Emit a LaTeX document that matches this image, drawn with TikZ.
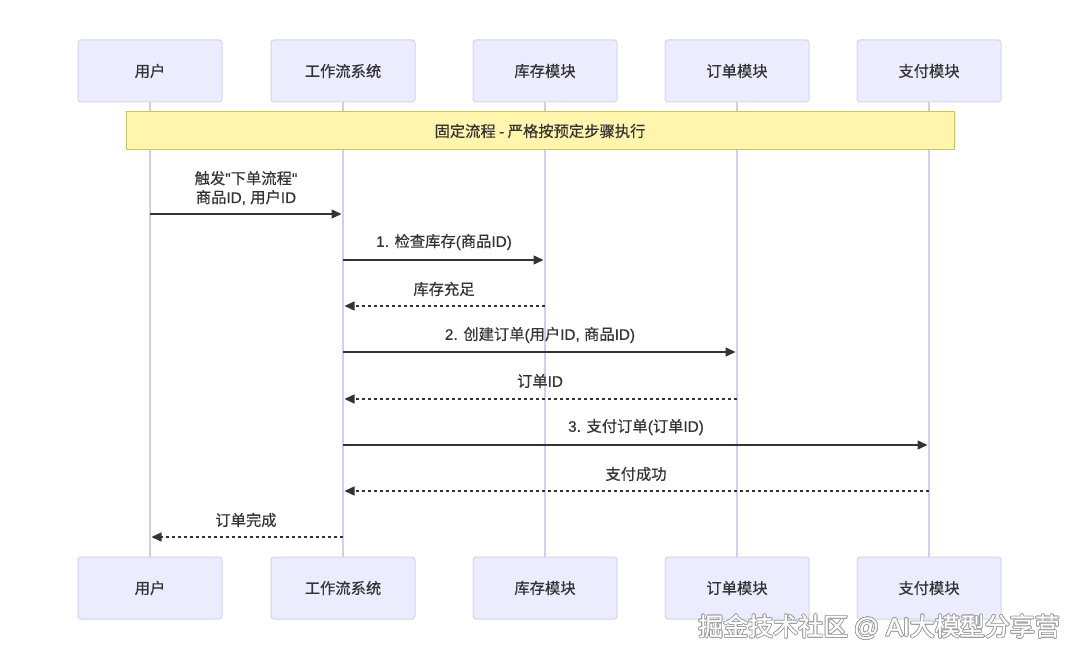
\documentclass[tikz,border=0pt]{standalone}
\usepackage{fontspec}
\setmainfont{Noto Sans CJK SC}[Ligatures=TeXOff, FakeBold=0.4]
\newfontfamily\latfont{Liberation Sans}[Ligatures=TeXOff, FakeBold=0.4]
\usepackage{contour}
\contourlength{0.7pt}
\contournumber{24}
\usetikzlibrary{arrows.meta}
\definecolor{actorfill}{HTML}{ECECFF}
\definecolor{actorline}{HTML}{D6D2F2}
\definecolor{lifeline}{HTML}{D0CFF3}
\definecolor{notefill}{HTML}{FFF5AD}
\definecolor{noteline}{HTML}{C8C85A}
\definecolor{txt}{HTML}{333333}
\newcommand{\lt}[1]{{\latfont #1}}
\begin{document}
\begin{tikzpicture}[x=1pt,y=-1pt,
  actorbox/.style={draw=actorline, fill=actorfill, line width=1pt, rounded corners=3pt,
    minimum width=144pt, minimum height=62pt, inner sep=0pt, text=txt, font=\fontsize{15.3}{18}\selectfont},
  life/.style={draw=lifeline, line width=1.3pt},
  msg/.style={draw=txt, line width=1.4pt, -{Triangle[length=10pt,width=9pt]}, shorten >=1.5pt},
  reply/.style={msg, dash pattern=on 3pt off 3pt},
  lbl/.style={text=txt, font=\fontsize{15.3}{19}\selectfont, inner sep=0pt, align=center},
  notebox/.style={draw=noteline, fill=notefill, line width=1pt, minimum width=828pt,
    minimum height=38pt, inner sep=0pt, text=txt, font=\fontsize{15.3}{18}\selectfont}
]
\fill[white] (0,0) rectangle (1080,660);
\useasboundingbox (0,0) rectangle (1080,660);

% top actors
\node[actorbox] (a1) at (150,71) {用户};
\node[actorbox] (a2) at (343,71) {工作流系统};
\node[actorbox] (a3) at (545,71) {库存模块};
\node[actorbox] (a4) at (737,71) {订单模块};
\node[actorbox] (a5) at (929,71) {支付模块};
% bottom actors
\node[actorbox] (b1) at (150,588) {用户};
\node[actorbox] (b2) at (343,588) {工作流系统};
\node[actorbox] (b3) at (545,588) {库存模块};
\node[actorbox] (b4) at (737,588) {订单模块};
\node[actorbox] (b5) at (929,588) {支付模块};

% lifelines
\foreach \i in {1,...,5} {\draw[life] (a\i.south) -- (b\i.north);}

% note
\node[notebox] (note) at (540,131) {固定流程 \lt{-} 严格按预定步骤执行};

% message coordinates
\coordinate (m1s) at (150,214); \coordinate (m1e) at (343,214);
\coordinate (m2s) at (343,260); \coordinate (m2e) at (545,260);
\coordinate (m3s) at (545,306); \coordinate (m3e) at (343,306);
\coordinate (m4s) at (343,352); \coordinate (m4e) at (737,352);
\coordinate (m5s) at (737,399); \coordinate (m5e) at (343,399);
\coordinate (m6s) at (343,445); \coordinate (m6e) at (929,445);
\coordinate (m7s) at (929,491); \coordinate (m7e) at (343,491);
\coordinate (m8s) at (343,537); \coordinate (m8e) at (150,537);

\draw[msg] (m1s) -- (m1e);
\draw[msg] (m2s) -- (m2e);
\draw[reply] (m3s) -- (m3e);
\draw[msg] (m4s) -- (m4e);
\draw[reply] (m5s) -- (m5e);
\draw[msg] (m6s) -- (m6e);
\draw[reply] (m7s) -- (m7e);
\draw[reply] (m8s) -- (m8e);

% labels
\node[lbl] (l1) at (246,188) {触发\lt{"}下单流程\lt{"}\\商品\lt{ID, }用户\lt{ID}};
\node[lbl] (l2) at (444,242) {\lt{1. }检查库存\lt{(}商品\lt{ID)}};
\node[lbl] (l3) at (444,289) {库存充足};
\node[lbl] (l4) at (540,335) {\lt{2. }创建订单\lt{(}用户\lt{ID, }商品\lt{ID)}};
\node[lbl] (l5) at (540,381) {订单\lt{ID}};
\node[lbl] (l6) at (636,427) {\lt{3. }支付订单\lt{(}订单\lt{ID)}};
\node[lbl] (l7) at (636,474) {支付成功};
\node[lbl] (l8) at (246,520) {订单完成};

% watermark
\node[text=white, font=\fontsize{25}{29}\selectfont, inner sep=0pt, anchor=east] (wm) at (1060,627)
  {\contour{gray!75}{掘金技术社区 \lt{@ AI}大模型分享营}};
\end{tikzpicture}
\end{document}
